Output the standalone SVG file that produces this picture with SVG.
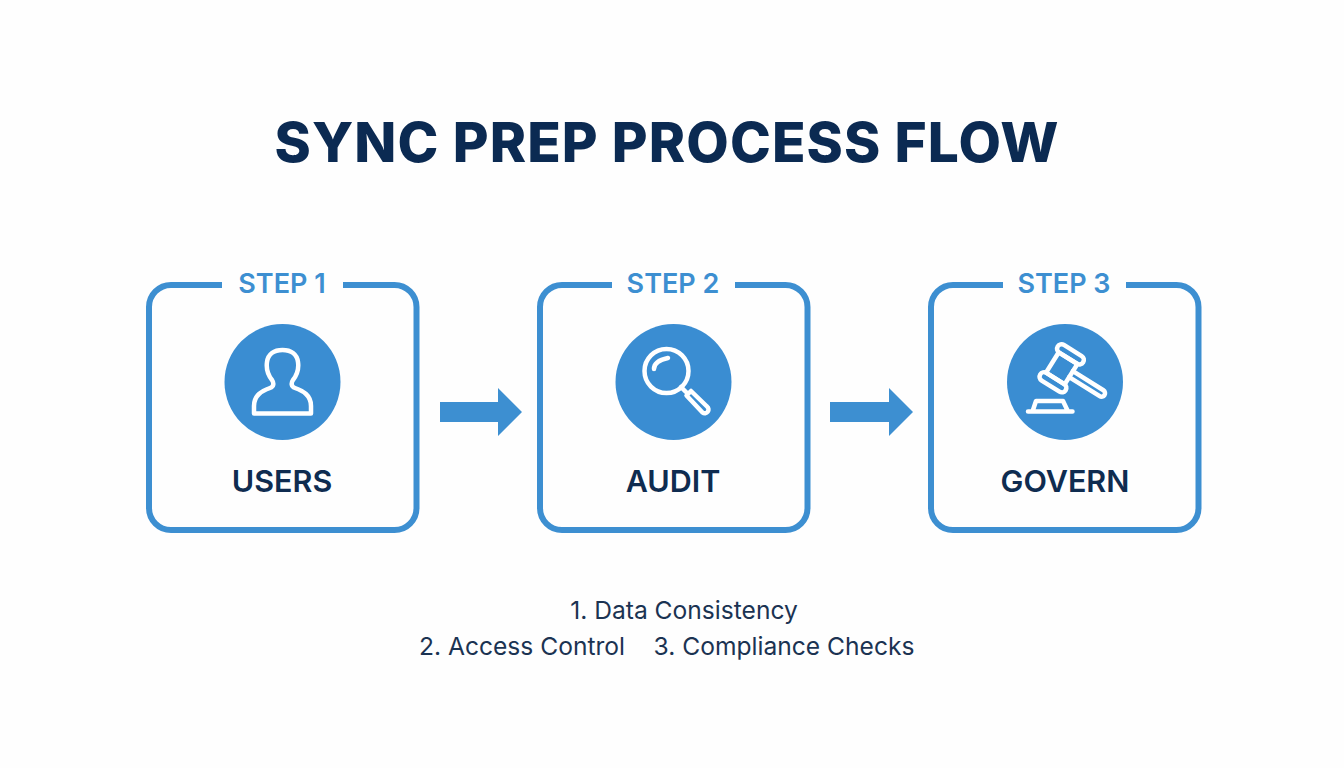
<svg xmlns="http://www.w3.org/2000/svg" width="1344" height="768" viewBox="0 0 1344 768">
<style>
text{font-family:Inter,"Liberation Sans",sans-serif;text-anchor:middle}
.title{font-size:55px;font-weight:800;fill:#0b2a52;letter-spacing:1.1px}
.step{font-size:27px;font-weight:600;fill:#3d8fd1}
.name{font-size:30.500px;font-weight:600;fill:#0f2c50}
.note{font-size:24.600px;font-weight:400;fill:#1b3352}
.frame{fill:none;stroke:#3d8fd1;stroke-width:6;stroke-linecap:butt}
.disc{fill:#3a8dd2}
.ic{fill:none;stroke:#fff;stroke-width:4.500;stroke-linejoin:round;stroke-linecap:round}
.arrow{fill:#3d8fd1}
</style>
<rect width="1344" height="768" fill="#fefefe"/>
<text id="title" class="title" x="667" y="162">SYNC PREP PROCESS FLOW</text>
<g id="step1">
<path class="frame" d="M222 285H171a22 22 0 0 0-22 22V508a22 22 0 0 0 22 22H394.500a22 22 0 0 0 22-22V307a22 22 0 0 0-22-22H343"/>
<text class="step" x="282" y="293">STEP 1</text>
<circle class="disc" cx="282.500" cy="382" r="58"/>
<path class="ic" d="M254 413.500V406C254 395 262 391 270 388C274 386.500 274 383 272 380C268 375 266 369 267 362C268 354 274 350 282.500 350C291 350 297 354 298 362C299 369 297 375 293 380C291 383 291 386.500 295 388C303 391 311 395 311 406V413.500Z"/>
<text class="name" x="282" y="492">USERS</text>
</g>
<g id="step2">
<path class="frame" d="M612 285H562a22 22 0 0 0-22 22V508a22 22 0 0 0 22 22H785.500a22 22 0 0 0 22-22V307a22 22 0 0 0-22-22H735"/>
<text class="step" x="673" y="293">STEP 2</text>
<circle class="disc" cx="673.500" cy="382" r="58"/>
<circle class="ic" cx="666.500" cy="371" r="22"/>
<path class="ic" d="M654 369C654 364 658 360 668 358"/>
<path class="ic" d="M681 387L686 392"/>
<path class="ic" d="M686.500 395.500L691 391L707 406.500A3.500 3.500 0 0 1 702.500 412.500Z"/>
<text class="name" x="673" y="492">AUDIT</text>
</g>
<g id="step3">
<path class="frame" d="M1003 285H953a22 22 0 0 0-22 22V508a22 22 0 0 0 22 22H1176.500a22 22 0 0 0 22-22V307a22 22 0 0 0-22-22H1126"/>
<text class="step" x="1064" y="293">STEP 3</text>
<circle class="disc" cx="1065" cy="382" r="58"/>
<g transform="translate(1061.700 368.300) rotate(32)">
<rect class="ic" x="-15" y="-21" width="30" height="9" rx="4.500"/>
<rect class="ic" x="-15" y="12" width="30" height="9" rx="4.500"/>
<rect class="ic" x="-11" y="-12" width="22" height="24"/>
<path class="ic" d="M11 -3.500H47A3.500 3.500 0 0 1 47 3.500H11"/>
</g>
<path class="ic" d="M1028 411.500H1072.500M1032.500 411.500L1036 401H1063L1068 411.500"/>
<text class="name" x="1065" y="492">GOVERN</text>
</g>
<g id="connectors">
<path class="arrow" d="M440 402H498V388L522 412L498 436V422H440Z"/>
<path class="arrow" d="M830 402H889V388L913 412L889 436V422H830Z"/>
</g>
<g id="notes">
<text class="note" x="684" y="619">1. Data Consistency</text>
<text class="note" x="522" y="655">2. Access Control</text>
<text class="note" x="784" y="655">3. Compliance Checks</text>
</g>
</svg>
